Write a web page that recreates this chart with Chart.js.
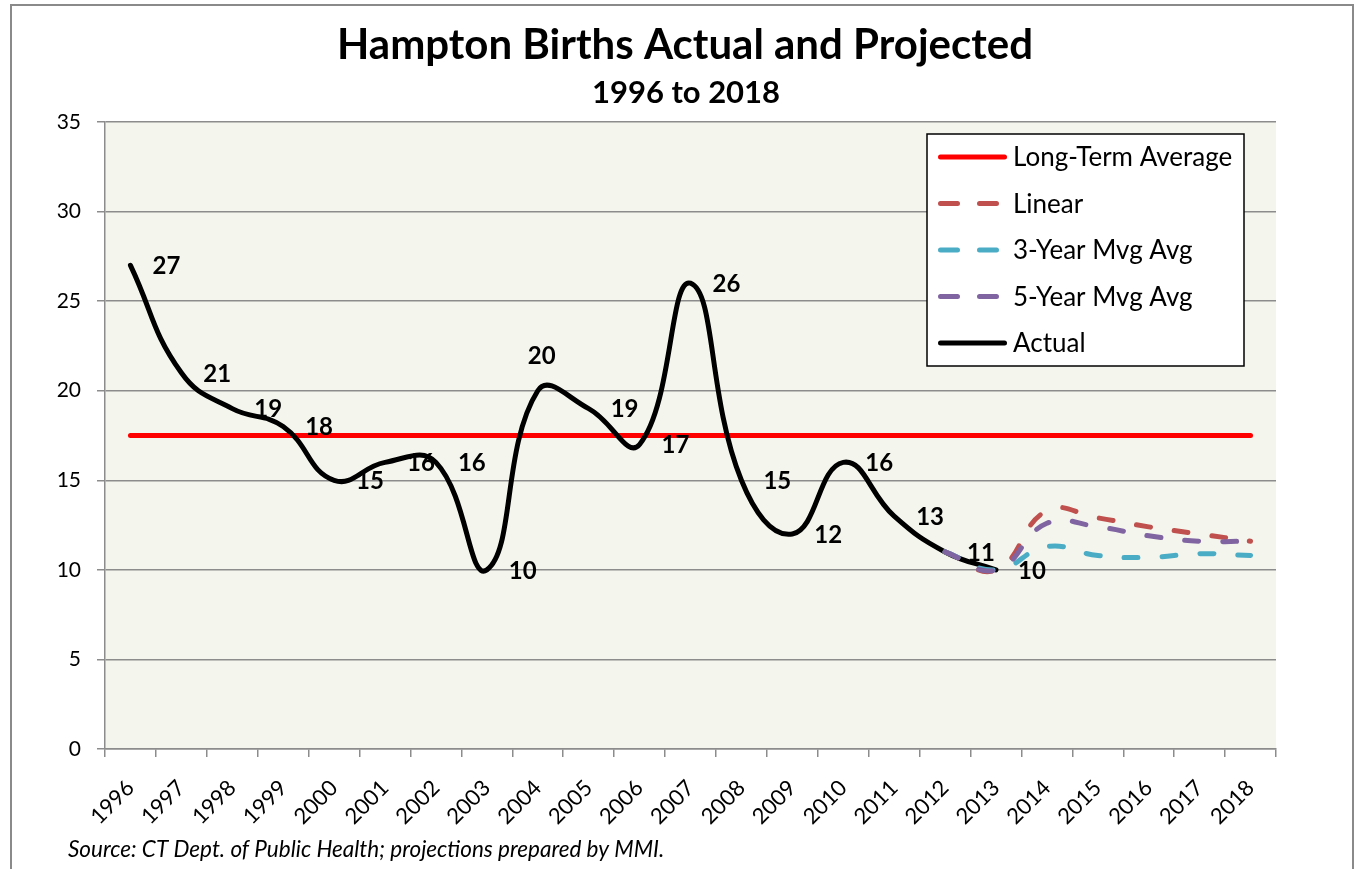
<!DOCTYPE html>
<html>
<head>
<meta charset="utf-8">
<script src="https://cdn.jsdelivr.net/npm/chart.js@4.4.1/dist/chart.umd.min.js"></script>
<style>
  html, body { margin: 0; padding: 0; background: #ffffff; }
  #wrap { width: 1357px; height: 869px; }
</style>
</head>
<body>
<div id="wrap"><canvas id="births" width="1357" height="869"></canvas></div>
<script>
// Hampton births, actual 1996-2013 and projections to 2018

const years = ['1996', '1997', '1998', '1999', '2000', '2001', '2002', '2003', '2004', '2005', '2006',
    '2007', '2008', '2009', '2010', '2011', '2012', '2013', '2014', '2015', '2016', '2017', '2018'];

const actual = [27, 21, 19, 18, 15, 16, 16, 10, 20, 19, 17, 26, 15, 12, 16, 13, 11, 10,
    null, null, null, null, null];

const longTermAverage = [17.5, 17.5, 17.5, 17.5, 17.5, 17.5, 17.5, 17.5, 17.5, 17.5, 17.5, 17.5,
    17.5, 17.5, 17.5, 17.5, 17.5, 17.5, 17.5, 17.5, 17.5, 17.5, 17.5];

// projections pick up from the last two actual years
const linear = [null, null, null, null, null, null, null, null, null, null, null, null,
    null, null, null, null, 11, 10, 13.3, 12.9, 12.4, 12.0, 11.6];
const mvgAvg3 = [null, null, null, null, null, null, null, null, null, null, null, null,
    null, null, null, null, 11, 10, 11.3, 10.8, 10.7, 10.9, 10.8];
const mvgAvg5 = [null, null, null, null, null, null, null, null, null, null, null, null,
    null, null, null, null, 11, 10, 12.6, 12.4, 11.9, 11.6, 11.6];

const yTicks = [0, 5, 10, 15, 20, 25, 30, 35];

const TITLE = 'Hampton Births Actual and Projected';
const SUBTITLE = '1996 to 2018';
const SOURCE = 'Source: CT Dept. of Public Health; projections prepared by MMI.';

const FONT = 'Lato, "Open Sans", sans-serif';
const GRID = '#8c8c8c';

const COLORS = {
    average: '#ff0000',
    linear: '#c0504d',
    mvg3: '#4bacc6',
    mvg5: '#8064a2',
    actual: '#000000'
};

function lineSet(label, data, color, dashed, order) {
    return {
        label: label,
        data: data,
        borderColor: color,
        backgroundColor: color,
        borderWidth: 5,
        borderDash: dashed ? [14, 24] : [],
        borderCapStyle: 'round',
        borderJoinStyle: 'round',
        pointRadius: 0,
        pointHoverRadius: 0,
        tension: label === 'Long-Term Average' ? 0 : 0.45,
        fill: false,
        spanGaps: false,
        order: order
    };
}

// grey frame, titles, plot background, data labels, legend box and source note
const chartDecor = {
    id: 'chartDecor',
    beforeDraw(chart) {
        const ctx = chart.ctx;
        const a = chart.chartArea;
        ctx.save();
        ctx.strokeStyle = '#8a8a8a';
        ctx.lineWidth = 2;
        ctx.strokeRect(11, 5, 1342, 900);
        ctx.fillStyle = '#f4f6ee';
        ctx.fillRect(a.left, a.top, a.right - a.left, a.bottom - a.top);

        ctx.fillStyle = '#000';
        ctx.textAlign = 'center';
        ctx.textBaseline = 'middle';
        ctx.font = 'bold 42px ' + FONT;
        ctx.fillText(TITLE, 685, 45);
        ctx.font = 'bold 31px ' + FONT;
        ctx.fillText(SUBTITLE, 686, 93);
        ctx.restore();
    },
    afterDatasetsDraw(chart) {
        const ctx = chart.ctx;
        const idx = chart.data.datasets.findIndex(d => d.label === 'Actual');
        const meta = chart.getDatasetMeta(idx);
        ctx.save();
        ctx.font = 'bold 24px ' + FONT;
        ctx.fillStyle = '#000';
        ctx.textBaseline = 'middle';
        meta.data.forEach((pt, i) => {
            if (actual[i] === null) return;
            if (years[i] === '2004') {
                // this one sits above its point in the original
                ctx.textAlign = 'center';
                ctx.fillText(String(actual[i]), pt.x + 4, pt.y - 34);
            } else {
                ctx.textAlign = 'left';
                ctx.fillText(String(actual[i]), pt.x + 22, pt.y + 1);
            }
        });
        ctx.restore();
    },
    afterDraw(chart) {
        const ctx = chart.ctx;
        ctx.save();

        // legend
        const box = { x: 927, y: 134, w: 317, h: 232 };
        ctx.fillStyle = '#ffffff';
        ctx.fillRect(box.x, box.y, box.w, box.h);
        ctx.strokeStyle = '#000';
        ctx.lineWidth = 1.5;
        ctx.strokeRect(box.x, box.y, box.w, box.h);

        ctx.font = '26px ' + FONT;
        ctx.textAlign = 'left';
        ctx.textBaseline = 'middle';
        chart.data.datasets.forEach((ds, i) => {
            const y = 157 + i * 46.5;
            ctx.strokeStyle = ds.borderColor;
            ctx.lineWidth = 5;
            ctx.lineCap = 'round';
            ctx.setLineDash(ds.borderDash.length ? [17, 22] : []);
            ctx.beginPath();
            ctx.moveTo(940.5, y);
            ctx.lineTo(ds.borderDash.length ? 1000 : 1004.5, y);
            ctx.stroke();
            ctx.setLineDash([]);
            ctx.fillStyle = '#000';
            ctx.fillText(ds.label, 1013, y + 1);
        });

        // source note
        ctx.font = 'italic 22.5px ' + FONT;
        ctx.fillStyle = '#000';
        ctx.fillText(SOURCE, 68, 850);
        ctx.restore();
    }
};

const ctx = document.getElementById('births').getContext('2d');

new Chart(ctx, {
    type: 'line',
    data: {
        labels: years,
        datasets: [
            lineSet('Long-Term Average', longTermAverage, COLORS.average, false, 5),
            lineSet('Linear', linear, COLORS.linear, true, 3),
            lineSet('3-Year Mvg Avg', mvgAvg3, COLORS.mvg3, true, 2),
            lineSet('5-Year Mvg Avg', mvgAvg5, COLORS.mvg5, true, 1),
            lineSet('Actual', actual, COLORS.actual, false, 4)
        ]
    },
    options: {
        responsive: false,
        animation: false,
        layout: { padding: { left: 0, right: 81, top: 122, bottom: 0 } },
        plugins: {
            legend: { display: false },
            tooltip: { enabled: false }
        },
        scales: {
            x: {
                type: 'category',
                offset: true,
                grid: {
                    display: true,
                    drawOnChartArea: false,
                    drawTicks: true,
                    tickLength: 8,
                    offset: true,
                    color: GRID,
                    lineWidth: 1.5
                },
                border: { display: true, color: GRID, width: 1.5 },
                ticks: {
                    autoSkip: false,
                    maxRotation: 45,
                    minRotation: 45,
                    padding: 18,
                    color: '#000',
                    font: { family: FONT, size: 22 }
                },
                afterFit(scale) { scale.height = 120; }
            },
            y: {
                min: 0,
                max: 35,
                afterBuildTicks(scale) { scale.ticks = yTicks.map(v => ({ value: v })); },
                grid: {
                    color: GRID,
                    lineWidth: 1.5,
                    drawTicks: true,
                    tickLength: 8
                },
                border: { display: true, color: GRID, width: 1.5 },
                ticks: {
                    padding: 16,
                    color: '#000',
                    font: { family: FONT, size: 21 }
                },
                afterFit(scale) { scale.width = 105; }
            }
        }
    },
    plugins: [chartDecor]
});
</script>
</body>
</html>
